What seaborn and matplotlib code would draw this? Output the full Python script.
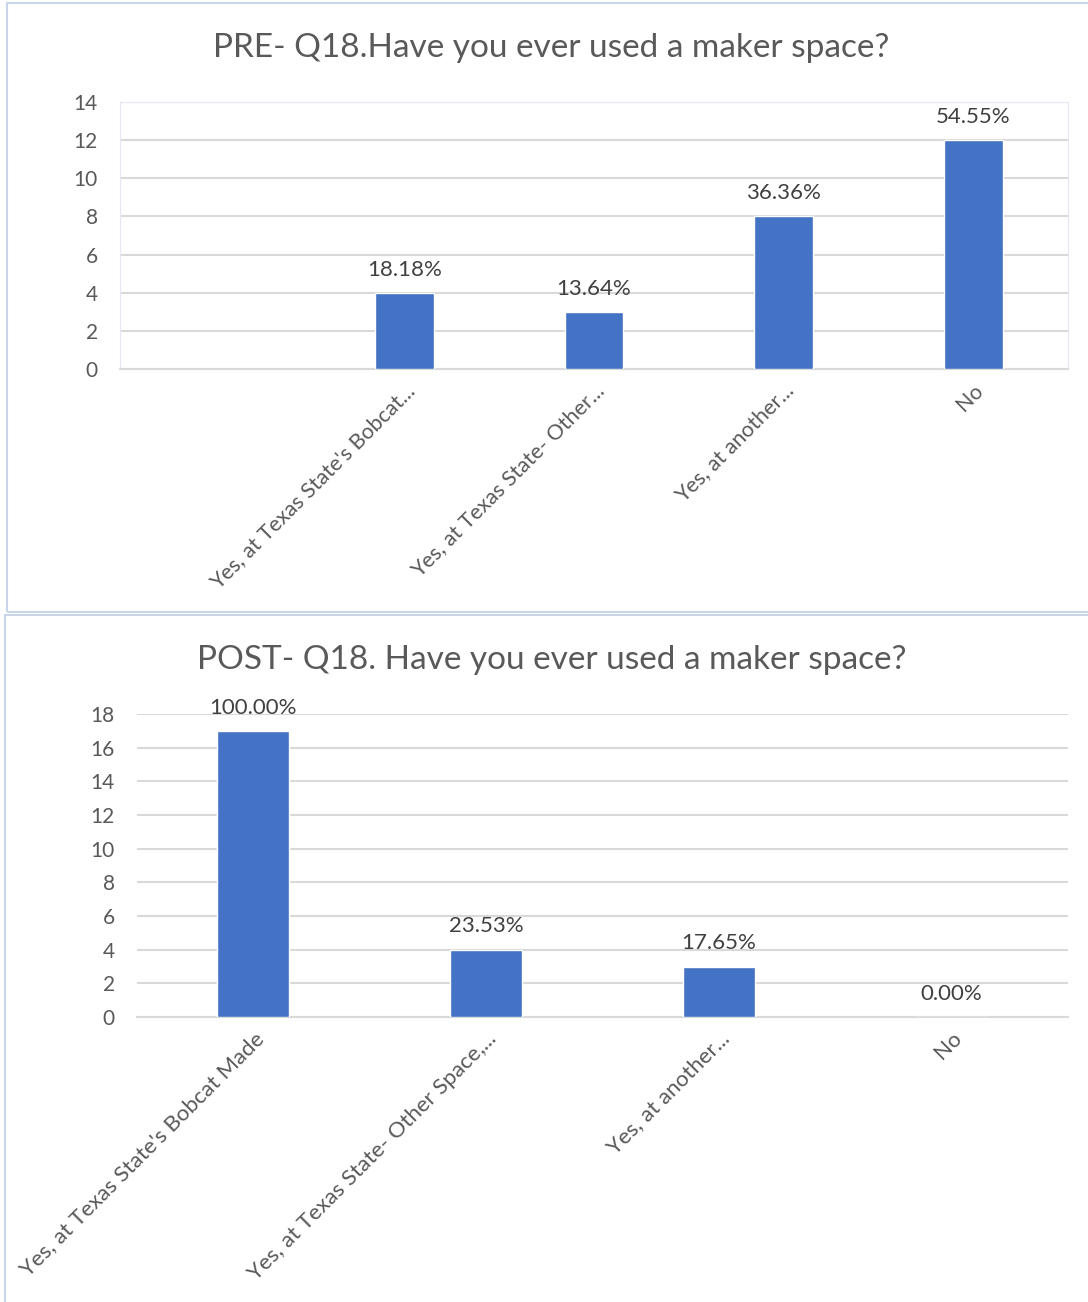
import pandas as pd
import matplotlib.pyplot as plt
import seaborn as sns
from matplotlib.patches import Rectangle

# PRE survey (first slot is an empty category in the source sheet)
pre_labels = ["", "Yes, at Texas State's Bobcat...", "Yes, at Texas State- Other...",
              "Yes, at another...", "No"]
pre_counts = [None, 4, 3, 8, 12]
pre_pct = [None, 18.18, 13.64, 36.36, 54.55]

# POST survey
post_labels = ["Yes, at Texas State's Bobcat Made", "Yes, at Texas State- Other Space,...",
               "Yes, at another...", "No"]
post_counts = [17, 4, 3, 0]
post_pct = [100.00, 23.53, 17.65, 0.00]

BAR = '#4472C4'
GRID = '#D9D9D9'
TXT = '#595959'

sns.set_style('white')
plt.rcParams['font.family'] = ['Lato', 'DejaVu Sans']

fig = plt.figure(figsize=(10.88, 13.02), dpi=100)

# panel borders (like the pasted chart frames)
for x0, y0, w, h in [(7, 3, 1100, 609), (5, 615, 1100, 700)]:
    fig.patches.append(Rectangle((x0 / 1088, 1 - (y0 + h) / 1302), w / 1088, h / 1302,
                                 transform=fig.transFigure, fill=False,
                                 edgecolor='#C9D5EA', linewidth=1.5))


def draw(ax, labels, counts, pct, ymax, frame, xfs):
    df = pd.DataFrame({'cat': [str(i) for i in range(len(labels))], 'n': counts})
    sns.barplot(data=df, x='cat', y='n', color=BAR, width=0.31, ax=ax, zorder=3,
                saturation=1)
    ax.set_ylim(0, ymax)
    ax.set_yticks(range(0, ymax + 1, 2))
    ax.set_xlim(-0.5, len(labels) - 0.5)
    ax.yaxis.grid(True, color=GRID, linewidth=1.5, zorder=0)
    ax.set_axisbelow(True)
    ax.set_xlabel('')
    ax.set_ylabel('')
    ax.set_xticks(range(len(labels)))
    ax.set_xticklabels(labels, rotation=45, ha='right', va='top',
                       rotation_mode='anchor', color=TXT, fontsize=xfs)
    ax.tick_params(axis='x', length=0, pad=8)
    ax.tick_params(axis='y', length=0, pad=16, labelcolor=TXT, labelsize=15)
    for s in ['top', 'right', 'left']:
        ax.spines[s].set_visible(frame)
        ax.spines[s].set_color('#E3E8F1')
    ax.spines['bottom'].set_color(GRID)
    ax.spines['bottom'].set_linewidth(1.5)
    for i, (c, p) in enumerate(zip(counts, pct)):
        if p is None:
            continue
        ax.annotate(f'{p:.2f}%', (i, c), xytext=(0, 9.5), textcoords='offset points',
                    ha='center', va='bottom', color='#404040', fontsize=16)


ax1 = fig.add_axes([120 / 1088, 1 - 369 / 1302, 948 / 1088, 267 / 1302])
draw(ax1, pre_labels, pre_counts, pre_pct, 14, True, 15.5)
fig.text(551 / 1088, 1 - 48 / 1302, 'PRE- Q18.Have you ever used a maker space?',
         ha='center', va='center', color=TXT, fontsize=24)

ax2 = fig.add_axes([137 / 1088, 1 - 1017 / 1302, 931 / 1088, 303 / 1302])
draw(ax2, post_labels, post_counts, post_pct, 18, False, 16)
fig.text(552 / 1088, 1 - 660 / 1302, 'POST- Q18. Have you ever used a maker space?',
         ha='center', va='center', color=TXT, fontsize=24)

fig.savefig('out.png', dpi=100)
